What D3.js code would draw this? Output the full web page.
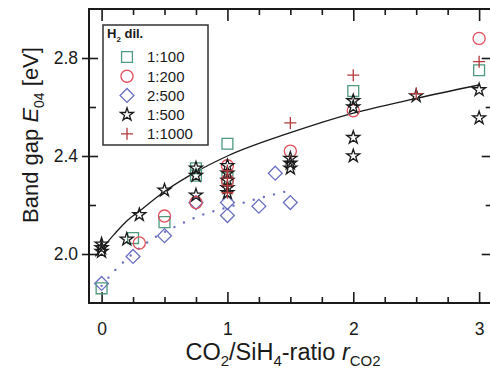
<!DOCTYPE html>
<html>
<head>
<meta charset="utf-8">
<script src="https://cdn.jsdelivr.net/npm/d3@7"></script>
<style>
body { margin: 0; background: #fff; }
svg { font-family: "Liberation Sans", Arial, sans-serif; }
</style>
</head>
<body>
<svg class="chart" width="490" height="374"></svg>
<script>
// data, [ratio, band gap]
var h100 = [[0, 1.86], [0.25, 2.065], [0.5, 2.13], [0.75, 2.35], [0.75, 2.32], [1, 2.45], [1, 2.31], [2, 2.665], [3, 2.75]];
var h200 = [[0.3, 2.045], [0.5, 2.155], [0.75, 2.21], [1, 2.36], [1, 2.30], [1.5, 2.42], [2, 2.585], [3, 2.88]];
var h2x500 = [[0, 1.88], [0.25, 1.99], [0.5, 2.075], [0.75, 2.21], [1, 2.21], [1, 2.157], [1.25, 2.195], [1.38, 2.33], [1.5, 2.21]];
var h500 = [[0, 2.04], [0, 2.025], [0, 2.01], [0.2, 2.06], [0.3, 2.16], [0.5, 2.26], [0.75, 2.35], [0.75, 2.32], [0.75, 2.24],
            [1, 2.36], [1, 2.33], [1, 2.30], [1, 2.27], [1, 2.25], [1.5, 2.39], [1.5, 2.37], [1.5, 2.35],
            [2, 2.625], [2, 2.60], [2, 2.475], [2, 2.40], [2.5, 2.645], [3, 2.67], [3, 2.555]];
var h1000 = [[1, 2.34], [1, 2.31], [1, 2.28], [1, 2.25], [1.5, 2.535], [2, 2.73], [2.5, 2.655], [3, 2.785]];

// fit lines, points
var fitBlack = [[-0.05, 1.99], [0, 2.02], [0.1, 2.08], [0.2, 2.135], [0.3, 2.175], [0.5, 2.255], [0.75, 2.335], [1, 2.40],
                [1.5, 2.495], [2, 2.575], [2.5, 2.635], [3, 2.69]];
var fitBlue = [[0, 1.87], [0.1, 1.93], [0.2, 1.98], [0.4, 2.06], [0.6, 2.115], [0.8, 2.16], [1, 2.19], [1.2, 2.22], [1.5, 2.26]];

var legendNames = ["1:100", "1:200", "2:500", "1:500", "1:1000"];
var xTicks = [0, 1, 2, 3];
var xMinor = [0.25, 0.5, 0.75, 1.25, 1.5, 1.75, 2.25, 2.5, 2.75];
var yTicks = [2.0, 2.4, 2.8];
var yMinor = [2.2, 2.6];

var chart = d3.select(".chart");

var x = d3.scaleLinear().domain([-0.1, 3.1]).range([89, 491.7]);
var y = d3.scaleLinear().domain([1.8, 3.0]).range([303, 9]);

var green = "#4f9a7e", red = "#e0505c", blue = "#6a6fc2", dark = "#1a1a1a", cross = "#b3393b";

// axes
function clean(g) { g.select(".domain").remove(); g.selectAll("line").attr("stroke", dark).attr("stroke-width", 1.6); }
var labelFont = "17.5px";

chart.append("g").attr("transform", "translate(0,303)")
  .call(d3.axisBottom(x).tickValues(xTicks).tickSize(-11).tickPadding(20).tickFormat(d3.format("d")))
  .call(clean)
  .selectAll("text").style("font-size", labelFont).attr("fill", dark).attr("font-family", "Liberation Sans, Arial");
chart.append("g").attr("transform", "translate(0,303)")
  .call(d3.axisBottom(x).tickValues(xMinor).tickSize(-6).tickFormat("")).call(clean);
chart.append("g").attr("transform", "translate(0,9)")
  .call(d3.axisTop(x).tickValues(xTicks).tickSize(-12).tickFormat("")).call(clean);
chart.append("g").attr("transform", "translate(0,9)")
  .call(d3.axisTop(x).tickValues(xMinor).tickSize(-6).tickFormat("")).call(clean);

chart.append("g").attr("transform", "translate(89,0)")
  .call(d3.axisLeft(y).tickValues(yTicks).tickSize(7).tickPadding(4).tickFormat(d3.format(".1f")))
  .call(clean)
  .selectAll("text").style("font-size", labelFont).attr("fill", dark).attr("font-family", "Liberation Sans, Arial");
chart.append("g").attr("transform", "translate(89,0)")
  .call(d3.axisLeft(y).tickValues(yTicks).tickSize(-9).tickFormat("")).call(clean);
chart.append("g").attr("transform", "translate(89,0)")
  .call(d3.axisLeft(y).tickValues(yMinor).tickSize(-7).tickFormat("")).call(clean);
chart.append("g").attr("transform", "translate(491.7,0)")
  .call(d3.axisRight(y).tickValues(yTicks).tickSize(-10).tickFormat("")).call(clean);
chart.append("g").attr("transform", "translate(491.7,0)")
  .call(d3.axisRight(y).tickValues(yMinor).tickSize(-6).tickFormat("")).call(clean);

chart.append("rect").attr("x", 89).attr("y", 9).attr("width", 491.7 - 89).attr("height", 303 - 9)
  .attr("fill", "none").attr("stroke", dark).attr("stroke-width", 2);

// fit lines
var line = d3.line().x(function(d) { return x(d[0]); }).y(function(d) { return y(d[1]); }).curve(d3.curveMonotoneX);
chart.append("path").attr("d", line(fitBlue)).attr("fill", "none").attr("stroke", blue)
  .attr("stroke-width", 2.4).attr("stroke-linecap", "round").attr("stroke-dasharray", "0,10.5");
chart.append("path").attr("d", line(fitBlack)).attr("fill", "none").attr("stroke", dark).attr("stroke-width", 1.3);

// marker shapes
var shapes = {
  square: d3.symbol(d3.symbolSquare, 118)(),
  circle: d3.symbol(d3.symbolCircle, 115)(),
  diamond: d3.symbol(d3.symbolSquare, 96)(),
  star: d3.symbol(d3.symbolStar, 52)(),
  cross: "M-6,0H6M0,-6V6"
};
var series = [
  { data: h100, shape: "square", color: green, rot: 0 },
  { data: h200, shape: "circle", color: red, rot: 0 },
  { data: h2x500, shape: "diamond", color: blue, rot: 45 },
  { data: h500, shape: "star", color: dark, rot: 0 },
  { data: h1000, shape: "cross", color: cross, rot: 0 }
];

var drawOrder = [2, 0, 1, 3, 4];
drawOrder.forEach(function(i) {
  var s = series[i];
  chart.append("g").selectAll("path").data(s.data).enter().append("path")
    .attr("d", shapes[s.shape])
    .attr("transform", function(d) { return "translate(" + x(d[0]) + "," + y(d[1]) + ") rotate(" + s.rot + ")"; })
    .attr("fill", "none").attr("stroke", s.color).attr("stroke-width", 1.3);
});

// legend
var legend = chart.append("g");
legend.append("rect").attr("x", 103).attr("y", 25).attr("width", 105).attr("height", 120)
  .attr("fill", "#fff").attr("stroke", "#333").attr("stroke-width", 1.5);
var lt = legend.append("text").attr("x", 107).attr("y", 38).attr("font-weight", "bold").attr("font-size", "13px").attr("fill", dark);
lt.append("tspan").text("H");
lt.append("tspan").attr("dy", 4).attr("font-size", "8px").text("2");
lt.append("tspan").attr("dy", -4).text(" dil.");

var rows = legend.selectAll(".row").data(series).enter().append("g")
  .attr("transform", function(d, i) { return "translate(127," + (57 + i * 19.2) + ")"; });
rows.append("path").attr("d", function(d) { return shapes[d.shape]; })
  .attr("transform", function(d) { return "rotate(" + d.rot + ")"; })
  .attr("fill", "none").attr("stroke", function(d) { return d.color; }).attr("stroke-width", 1.3);
rows.append("text").attr("x", 20).attr("dy", "0.36em").attr("font-size", "15px").attr("fill", dark)
  .text(function(d, i) { return legendNames[i]; });

// axis titles
var xt = chart.append("text").attr("x", 283).attr("y", 360).attr("text-anchor", "middle")
  .attr("font-size", "23.5px").attr("fill", dark);
xt.append("tspan").text("CO");
xt.append("tspan").attr("dy", 6).attr("font-size", "15px").text("2");
xt.append("tspan").attr("dy", -6).text("/SiH");
xt.append("tspan").attr("dy", 6).attr("font-size", "15px").text("4");
xt.append("tspan").attr("dy", -6).text("-ratio ");
xt.append("tspan").attr("font-style", "italic").text("r");
xt.append("tspan").attr("dy", 6).attr("font-size", "15px").text("CO2");

var yt = chart.append("text").attr("transform", "translate(38,135) rotate(-90)").attr("text-anchor", "middle")
  .attr("font-size", "22px").attr("fill", dark);
yt.append("tspan").text("Band gap ");
yt.append("tspan").attr("font-style", "italic").text("E");
yt.append("tspan").attr("dy", 6).attr("font-size", "14px").text("04");
yt.append("tspan").attr("dy", -6).text(" [eV]");
</script>
</body>
</html>
